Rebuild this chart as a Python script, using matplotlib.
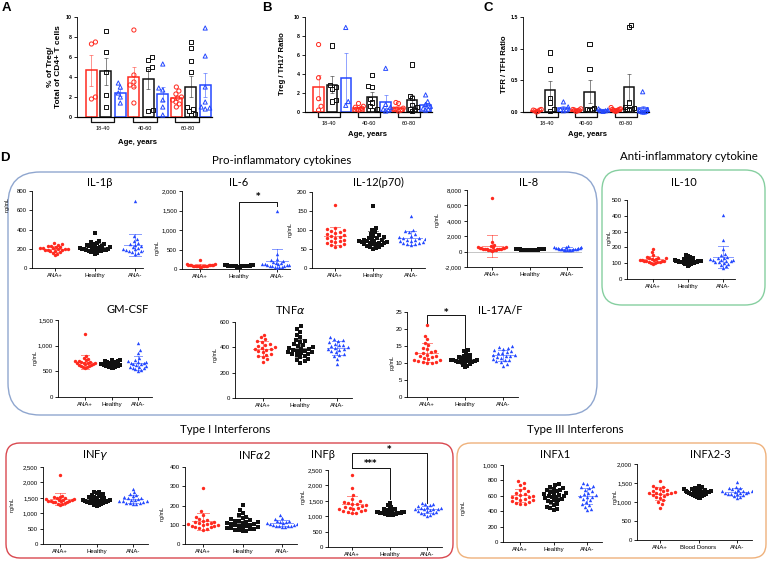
import numpy as np
import matplotlib.pyplot as plt
from matplotlib.patches import FancyBboxPatch
from matplotlib.transforms import Affine2D, blended_transform_factory
from matplotlib.ticker import FuncFormatter

W, H = 769, 561
RED = "#ff2a1f"
BLACK = "#111111"
BLUE = "#2448ff"
COLORS = [RED, BLACK, BLUE]
MARKERS = ["o", "s", "^"]

ages = ["18-40", "40-60", "60-80"]
cats = ["ANA+", "Healthy", "ANA-"]
cats_donors = ["ANA+", "Blood Donors", "ANA-"]

# --- panels A-C: one list per age group, per donor group
treg_pct_pos = [[7.5, 7.3, 2.0, 1.8], [8.7, 4.2, 3.5, 3.2, 3.0, 1.4],
                [3.0, 2.6, 2.3, 2.0, 1.9, 1.7, 1.5, 1.3, 1.0]]
treg_pct_healthy = [[8.6, 6.5, 4.5, 2.2, 1.0], [6.0, 5.7, 4.8, 0.7, 0.6, 5.0],
                    [7.5, 6.9, 5.6, 4.5, 1.0, 0.8, 0.6, 0.3, 0.2]]
treg_pct_neg = [[3.4, 3.0, 2.4, 2.0, 1.4], [5.3, 2.9, 2.7, 1.7, 1.0, 0.2],
                [8.9, 6.1, 3.0, 1.5, 1.0, 0.9, 0.8]]

treg_th17_pos = [[7.1, 3.6, 1.4, 0.6, 0.2], [0.9, 0.6, 0.5, 0.4, 0.3, 0.3, 0.2],
                 [1.0, 0.9, 0.4, 0.3, 0.3, 0.2, 0.1]]
treg_th17_healthy = [[7.0, 2.8, 2.6, 2.4, 1.3, 1.1], [3.9, 2.7, 2.6, 1.4, 1.0, 0.6, 0.3, 0.2],
                     [5.0, 1.7, 1.5, 0.7, 0.5, 0.3, 0.2, 0.1]]
treg_th17_neg = [[8.9, 1.1, 0.7], [4.6, 0.8, 0.5, 0.3, 0.2, 0.1],
                 [1.8, 1.1, 0.8, 0.6, 0.4, 0.3, 0.2]]

tfr_tfh_pos = [[0.04, 0.03, 0.03, 0.02, 0.01, 0.0], [0.05, 0.04, 0.03, 0.03, 0.02, 0.01],
               [0.07, 0.05, 0.04, 0.04, 0.03, 0.03, 0.02, 0.02, 0.01]]
tfr_tfh_healthy = [[0.94, 0.67, 0.22, 0.15, 0.05, 0.02], [1.08, 0.68, 0.06, 0.05, 0.04, 0.03],
                   [1.38, 1.34, 0.15, 0.08, 0.06, 0.05, 0.04, 0.03]]
tfr_tfh_neg = [[0.16, 0.08, 0.04, 0.03, 0.02], [0.05, 0.03, 0.02, 0.02, 0.01],
               [0.32, 0.04, 0.02, 0.01, 0.01, 0.0, 0.0]]

# --- panel D cytokines (ANA+, Healthy, ANA-)
il1b = [[255, 245, 240, 230, 225, 220, 215, 212, 210, 205, 200, 198, 195, 190, 188, 185, 180, 175, 170, 160, 150, 130],
        [360, 280, 270, 260, 250, 245, 240, 235, 230, 225, 220, 215, 212, 210, 208, 205, 200, 198, 195, 192,
         190, 188, 185, 180, 178, 175, 170, 165, 160, 150],
        [700, 330, 300, 280, 260, 250, 240, 230, 220, 210, 205, 200, 198, 195, 190, 185, 180, 175, 170, 160, 150]]
il6 = [[220, 130, 120, 110, 105, 100, 98, 95, 92, 90, 88, 85, 82, 80, 78, 75, 72, 70, 65, 60, 55],
       [105, 100, 98, 95, 92, 90, 88, 86, 85, 84, 82, 80, 79, 78, 77, 76, 75, 74, 73, 72,
        71, 70, 68, 66, 65, 63, 60, 58, 55, 50],
       [1500, 380, 250, 220, 200, 180, 160, 150, 140, 130, 120, 110, 100, 90, 85, 80, 70, 60, 50, 40, 30]]
il12 = [[165, 105, 102, 100, 98, 95, 92, 90, 88, 85, 82, 80, 78, 75, 72, 70, 68, 65, 62, 60, 58, 55],
        [162, 105, 100, 95, 90, 88, 85, 82, 80, 78, 76, 75, 74, 72, 71, 70, 69, 68, 67, 66,
         65, 64, 63, 62, 60, 58, 56, 55, 52, 50],
        [138, 100, 98, 95, 90, 85, 82, 80, 78, 76, 75, 74, 72, 70, 68, 66, 65, 64, 62, 60]]
il8 = [[6900, 1300, 800, 700, 650, 600, 550, 500, 480, 450, 420, 400, 380, 350, 320, 300, 280, 250, 220, 200, 150, 100],
       [350, 340, 330, 320, 310, 300, 300, 290, 290, 280, 280, 270, 270, 260, 260, 250, 250, 240, 240, 230,
        230, 220, 220, 210, 210, 200, 200, 190, 180, 170],
       [700, 650, 600, 550, 500, 480, 450, 420, 400, 380, 350, 330, 300, 280, 260, 250, 230, 200, 180, 150]]
il10 = [[190, 170, 150, 140, 135, 132, 130, 128, 125, 122, 120, 118, 117, 115, 113, 112, 110, 108, 105, 102, 100, 95],
        [155, 145, 140, 135, 130, 128, 125, 122, 120, 118, 116, 115, 114, 113, 112, 111, 110, 109, 108, 107,
         106, 105, 104, 102, 100, 98, 95, 92, 90, 85],
        [405, 245, 190, 160, 150, 140, 135, 130, 125, 122, 120, 118, 115, 112, 110, 105, 100, 95, 90, 80, 70]]
gmcsf = [[1230, 800, 760, 740, 720, 710, 700, 690, 680, 670, 665, 660, 655, 650, 640, 630, 620, 610, 600, 590, 575, 560],
         [725, 715, 705, 700, 690, 685, 680, 675, 670, 665, 660, 655, 650, 645, 640, 635, 630, 625, 620, 615,
          610, 605, 600, 595, 590, 585, 580, 575, 570, 565],
         [1060, 920, 850, 760, 720, 700, 690, 680, 670, 660, 650, 640, 620, 600, 590, 580, 570, 560, 540, 520, 510]]
tnfa = [[500, 480, 465, 450, 440, 430, 420, 410, 400, 395, 390, 385, 380, 370, 360, 350, 340, 330, 320, 305, 285],
        [565, 545, 520, 500, 480, 460, 450, 440, 430, 420, 410, 400, 395, 390, 385, 380, 375, 370, 365, 360,
         355, 350, 345, 340, 330, 320, 310, 300, 290, 280],
        [480, 465, 455, 450, 440, 430, 420, 415, 410, 400, 395, 390, 385, 380, 370, 360, 350, 340, 330, 310, 265]]
il17 = [[21.2, 18.0, 17.0, 16.0, 15.2, 14.5, 14.0, 13.5, 13.2, 13.0, 12.8, 12.5, 12.2, 12.0, 11.8, 11.5,
         11.2, 11.0, 10.8, 10.5, 10.3, 10.2, 10.0, 10.0],
        [13.8, 13.5, 13.0, 12.5, 12.2, 12.0, 11.8, 11.5, 11.3, 11.2, 11.0, 11.0, 10.9, 10.8, 10.7, 10.6,
         10.5, 10.4, 10.3, 10.2, 10.0, 9.8, 9.5, 9.2, 8.7],
        [15.0, 14.8, 14.5, 14.2, 13.8, 13.5, 13.2, 13.0, 12.8, 12.5, 12.3, 12.2, 12.0, 11.8, 11.5, 11.2,
         11.0, 10.8, 10.5, 10.2, 9.8, 9.2]]
infg = [[2230, 1560, 1540, 1520, 1500, 1480, 1460, 1450, 1440, 1430, 1420, 1410, 1400, 1390, 1380, 1370,
         1360, 1350, 1330, 1310, 1290, 1280],
        [1700, 1680, 1650, 1620, 1600, 1580, 1560, 1540, 1520, 1500, 1480, 1460, 1450, 1440, 1430, 1420,
         1410, 1400, 1390, 1380, 1370, 1360, 1350, 1340, 1330, 1320, 1300, 1280, 1260, 1250],
        [1800, 1680, 1620, 1580, 1550, 1520, 1500, 1480, 1460, 1440, 1420, 1400, 1390, 1380, 1360, 1340,
         1330, 1320, 1310, 1300]]
infa2 = [[290, 170, 150, 140, 130, 125, 120, 115, 112, 110, 108, 105, 102, 100, 98, 95, 92, 90, 88, 85, 80, 75],
         [205, 175, 160, 150, 140, 135, 130, 125, 120, 118, 115, 112, 110, 108, 105, 102, 100, 98, 95, 92,
          90, 88, 85, 82, 80, 78, 75, 72, 70, 65],
         [150, 135, 128, 122, 118, 115, 112, 110, 108, 105, 103, 100, 98, 96, 95, 93, 92, 90, 90]]
infb = [[2330, 1900, 1680, 1550, 1500, 1450, 1420, 1400, 1380, 1350, 1320, 1300, 1280, 1260, 1250, 1230,
         1200, 1180, 1160, 1140, 1120, 1100],
        [1420, 1350, 1300, 1280, 1250, 1230, 1220, 1200, 1190, 1180, 1170, 1160, 1150, 1140, 1130, 1120,
         1110, 1100, 1100, 1090, 1080, 1070, 1060, 1050, 1040, 1040, 1050, 1080, 1120, 1150],
        [1430, 1400, 1380, 1350, 1320, 1300, 1280, 1260, 1250, 1240, 1230, 1220, 1200, 1180, 1160, 1140,
         1120, 1100, 1080, 1050, 1020]]
infl1 = [[790, 760, 740, 700, 680, 660, 640, 620, 610, 600, 590, 580, 570, 560, 550, 540, 530, 520, 510, 500, 490],
         [750, 740, 720, 700, 690, 680, 670, 660, 650, 640, 630, 620, 610, 600, 600, 590, 580, 570, 560, 550,
          540, 530, 520, 500, 480, 460, 440, 430, 420],
         [770, 750, 730, 710, 700, 680, 660, 640, 620, 610, 600, 590, 580, 560, 540, 520, 500, 480, 460, 430, 410]]
infl23 = [[1550, 1420, 1400, 1380, 1350, 1320, 1300, 1280, 1260, 1250, 1240, 1230, 1220, 1200, 1180, 1160,
           1120, 1100, 1050, 1000, 950, 850],
          [1420, 1400, 1380, 1370, 1350, 1340, 1330, 1320, 1310, 1300, 1290, 1280, 1275, 1270, 1265, 1260,
           1255, 1250, 1240, 1230, 1220, 1210, 1200, 1190, 1180, 1170, 1150, 1130, 1110, 1100],
          [1520, 1400, 1380, 1360, 1340, 1320, 1300, 1290, 1280, 1270, 1260, 1250, 1240, 1230, 1220, 1210,
           1200, 1180, 1150, 1120, 1100]]

fig = plt.figure(figsize=(W / 100, H / 100), dpi=100)
# pixel coordinates measured from the top-left corner
PX = Affine2D().scale(1 / W, -1 / H).translate(0, 1) + fig.transFigure


def add_ax(x0, y0, x1, y1):
    return fig.add_axes([x0 / W, 1 - y1 / H, (x1 - x0) / W, (y1 - y0) / H])


def swarm(ypx, d, limit):
    """x offsets (pixels) so that markers of diameter d do not overlap,
    squeezed into +-limit pixels"""
    order = np.argsort(ypx)
    placed = []
    xs = np.zeros(len(ypx))
    for n, i in enumerate(order):
        y = ypx[i]
        signs = (1, -1) if n % 2 else (-1, 1)
        found = None
        for step in range(400):
            for s in (signs if step else (1,)):
                x = s * step * 0.5
                if all((x - a) ** 2 + (y - b) ** 2 >= d * d for a, b in placed):
                    found = x
                    break
            if found is not None:
                break
        xs[i] = found
        placed.append((found, y))
    widest = np.abs(xs).max()
    if widest > limit:
        xs = xs * limit / widest
    return xs


def thousands(v, pos):
    return "{:,.0f}".format(v)


def text(x, y, s, size, **kw):
    fig.text(x, y, s, transform=PX, fontsize=size, **kw)


def dot_panel(box, groups, ylim, step, ylabel, lab_xy, names):
    spine, c0, c2, right, top, bottom = box
    unit = (c2 - c0) / 2.0
    ax = add_ax(spine, top, right, bottom)
    ax.set_xlim(-(c0 - spine) / unit, 2 + (right - c2) / unit)
    ax.set_ylim(*ylim)
    ypp = (bottom - top) / (ylim[1] - ylim[0])
    for k, vals in enumerate(groups):
        vals = np.asarray(vals, float)
        off = swarm((vals - ylim[0]) * ypp, 4.2, 0.38 * unit) / unit
        m, sd = vals.mean(), vals.std(ddof=1)
        ax.plot([k - 0.28, k + 0.28], [m, m], color=COLORS[k], lw=0.7, alpha=0.55, zorder=2)
        ax.plot([k, k], [m - sd, m + sd], color=COLORS[k], lw=0.7, alpha=0.55, zorder=2)
        for y in (m - sd, m + sd):
            ax.plot([k - 0.14, k + 0.14], [y, y], color=COLORS[k], lw=0.7, alpha=0.55, zorder=2)
        ax.scatter(k + off, vals, s=6, marker=MARKERS[k], color=COLORS[k], lw=0, zorder=3)
    ax.set_xticks([0, 1, 2])
    ax.set_xticklabels(names, fontsize=4.3, family="Liberation Sans")
    ax.set_yticks(np.arange(ylim[0], ylim[1] + step / 2, step))
    if ylim[1] >= 1000:
        ax.yaxis.set_major_formatter(FuncFormatter(thousands))
    ax.tick_params(labelsize=4.3, length=2, width=0.6, pad=1.5)
    for lab in ax.get_yticklabels():
        lab.set_family("Liberation Sans")
    for s in ("top", "right"):
        ax.spines[s].set_visible(False)
    for s in ("left", "bottom"):
        ax.spines[s].set_linewidth(0.6)
    text(lab_xy[0], lab_xy[1], ylabel, 3.8, rotation=90, ha="center", va="center",
         family="Liberation Sans")
    return ax


def bar_panel(x0, x1, top, bottom, series, ylim, step, fmt):
    ax = add_ax(x0, top, x1, bottom)
    ax.set_xlim(-0.68, 2.5)
    ax.set_ylim(*ylim)
    unit = (x1 - x0) / 3.18
    ypp = (bottom - top) / (ylim[1] - ylim[0])
    offs = [-0.34, 0.0, 0.34]
    for k, groups in enumerate(series):
        for g, vals in enumerate(groups):
            vals = np.asarray(vals, float)
            x = g + offs[k]
            m = vals.mean()
            sem = vals.std(ddof=1) / np.sqrt(len(vals))
            ax.bar(x, m, width=0.26, facecolor="white", edgecolor=COLORS[k], lw=1.1, zorder=1)
            ax.errorbar(x, m, yerr=sem, fmt="none", ecolor=COLORS[k], elinewidth=0.5,
                        capsize=1.4, capthick=0.5, alpha=0.7, zorder=2)
            off = swarm((vals - ylim[0]) * ypp, 4.3, 0.12 * unit) / unit
            ax.scatter(x + off, vals, s=9, marker=MARKERS[k], facecolors="none",
                       edgecolors=COLORS[k], lw=0.7, zorder=3, clip_on=False)
    ax.set_xticks([])
    ax.set_yticks(np.arange(ylim[0], ylim[1] + step / 2, step))
    ax.yaxis.set_major_formatter(FuncFormatter(lambda v, p: fmt.format(v)))
    ax.tick_params(labelsize=3.8, length=2, width=0.6, pad=1.5)
    for lab in ax.get_yticklabels():
        lab.set_weight("bold")
        lab.set_family("Liberation Sans")
    for s in ("top", "right"):
        ax.spines[s].set_visible(False)
    ax.spines["left"].set_linewidth(0.6)
    ax.spines["bottom"].set_linewidth(0.9)
    tr = blended_transform_factory(ax.transData, ax.transAxes)
    dy = 5.0 / (bottom - top)
    for g, age in enumerate(ages):
        xa, xb = g - 0.36, g + 0.2
        ax.plot([xa, xa, xb, xb], [0, -dy, -dy, 0], color=BLACK, lw=0.9,
                transform=tr, clip_on=False)
        ax.text((xa + xb) / 2, -dy - 4.0 / (bottom - top), age, transform=tr, ha="center",
                va="top", fontsize=4.0, family="Liberation Sans")
    return ax


# ---------------- panels A-C
bar_panel(77, 212, 17, 117, [treg_pct_pos, treg_pct_healthy, treg_pct_neg], (0, 10), 2, "{:.0f}")
bar_panel(305, 432, 17, 112, [treg_th17_pos, treg_th17_healthy, treg_th17_neg], (0, 10), 2, "{:.0f}")
bar_panel(523, 649, 17, 112, [tfr_tfh_pos, tfr_tfh_healthy, tfr_tfh_neg], (0, 1.5), 0.5, "{:.1f}")

bold = dict(family="Liberation Sans", weight="bold")
text(50, 67, "% of Treg/", 6.0, rotation=90, ha="center", va="center", **bold)
text(59, 67, "Total of CD4+ T cells", 6.0, rotation=90, ha="center", va="center", **bold)
text(283, 64, "Treg / TH17 Ratio", 5.6, rotation=90, ha="center", va="center", **bold)
text(504, 64, "TFR / TFH Ratio", 5.6, rotation=90, ha="center", va="center", **bold)
text(137, 143, "Age, years", 5.6, ha="center", va="center", **bold)
text(368, 135, "Age, years", 5.6, ha="center", va="center", **bold)
text(587, 135, "Age, years", 5.6, ha="center", va="center", **bold)
for lab, x, y in [("A", 2, 8), ("B", 262, 8), ("C", 483, 8), ("D", 0, 158)]:
    text(x, y, lab, 9.5, ha="left", va="center", **bold)

# ---------------- rounded group boxes
for (x0, y0, x1, y1, r, col) in [(8, 172, 597, 415, 32, "#8fa6cf"),
                                 (602, 170, 765, 305, 20, "#86cfa0"),
                                 (6, 443, 453, 558, 14, "#d9484f"),
                                 (457, 443, 766, 558, 14, "#efb17b")]:
    fig.add_artist(FancyBboxPatch((x0, y0), x1 - x0, y1 - y0,
                                  boxstyle="round,pad=0,rounding_size=%d" % r,
                                  transform=PX, fill=False, ec=col, lw=1.0))

tfont = dict(family="Lato", ha="center", va="center")
text(282, 160, "Pro-inflammatory cytokines", 8.3, **tfont)
text(689, 156, "Anti-inflammatory cytokine", 8.3, **tfont)
text(225, 430, "Type I Interferons", 8.3, **tfont)
text(575, 430, "Type III Interferons", 8.3, **tfont)

# ---------------- panel D scatter plots
panels = [
    ("IL-1\u03b2", (100, 182), il1b, (32, 55, 135, 143, 191, 268), (0, 800), 200, "ng/mL", (7, 205), cats),
    ("IL-6", (239, 182), il6, (182, 200, 277, 290, 191, 269), (0, 2000), 500, "ng/mL", (157, 248), cats),
    ("IL-12(p70)", (378, 182), il12, (312, 335, 411, 425, 192, 268), (0, 200), 50, "ng/mL", (290, 230), cats),
    ("IL-8", (529, 182), il8, (467, 492, 567, 582, 190, 267), (-2000, 8000), 2000, "ng/mL", (437, 220), cats),
    ("IL-10", (684, 183), il10, (627, 653, 723, 735, 200, 279), (0, 500), 100, "ng/mL", (609, 238), cats),
    ("GM-CSF", (128, 310), gmcsf, (58, 85, 138, 152, 320, 397), (0, 1500), 500, "ng/mL", (35, 358), cats),
    ("TNF$\\alpha$", (290, 310), tnfa, (235, 263, 337, 352, 322, 398), (0, 600), 200, "ng/mL", (215, 355), cats),
    ("IL-17A/F", (500, 311), il17, (407, 427, 503, 518, 312, 397), (0, 25), 5, "pg/mL", (392, 363), cats),
    ("INF$\\gamma$", (95, 455), infg, (43, 60, 133, 148, 467, 544), (0, 2500), 500, "ng/mL", (12, 505), cats),
    ("INF$\\alpha$2", (255, 455), infa2, (185, 203, 282, 297, 467, 544), (0, 400), 100, "ng/mL", (162, 514), cats),
    ("INF\u03b2", (323, 455), infb, (328, 352, 427, 442, 470, 547), (0, 2500), 500, "ng/mL", (303, 497), cats),
    ("INF\u03bb1", (555, 455), infl1, (503, 520, 587, 602, 465, 542), (0, 1000), 200, "ng/mL", (463, 508), cats),
    ("INF\u03bb2-3", (710, 455), infl23, (637, 660, 737, 752, 464, 540), (0, 2000), 500, "ng/mL", (615, 497), cats_donors),
]
axes = {}
for title, txy, data, box, ylim, step, ylab, labxy, names in panels:
    axes[title] = dot_panel(box, data, ylim, step, ylab, labxy, names)
    text(txy[0], txy[1], title, 8.0, **tfont)

axes["IL-8"].axhline(0, color="#bbbbbb", lw=0.6, zorder=1)


def sig(ax, x0, x1, y, y0, y1, star, ys):
    ax.plot([x0, x0, x1, x1], [y0, y, y, y1], color=BLACK, lw=0.7, clip_on=False, zorder=4)
    ax.text((x0 + x1) / 2, ys, star, ha="center", va="center", fontsize=6, weight="bold",
            clip_on=False)


sig(axes["IL-6"], 1, 2, 1720, 130, 1610, "*", 1860)
sig(axes["IL-17A/F"], 0, 1, 24.1, 21.8, 13.9, "*", 24.9)
sig(axes["INF\u03b2"], 0, 2, 3050, 2565, 1440, "*", 3170)
sig(axes["INF\u03b2"], 0, 1, 2565, 2565, 1560, "***", 2700)

fig.savefig("out.png", dpi=100)
